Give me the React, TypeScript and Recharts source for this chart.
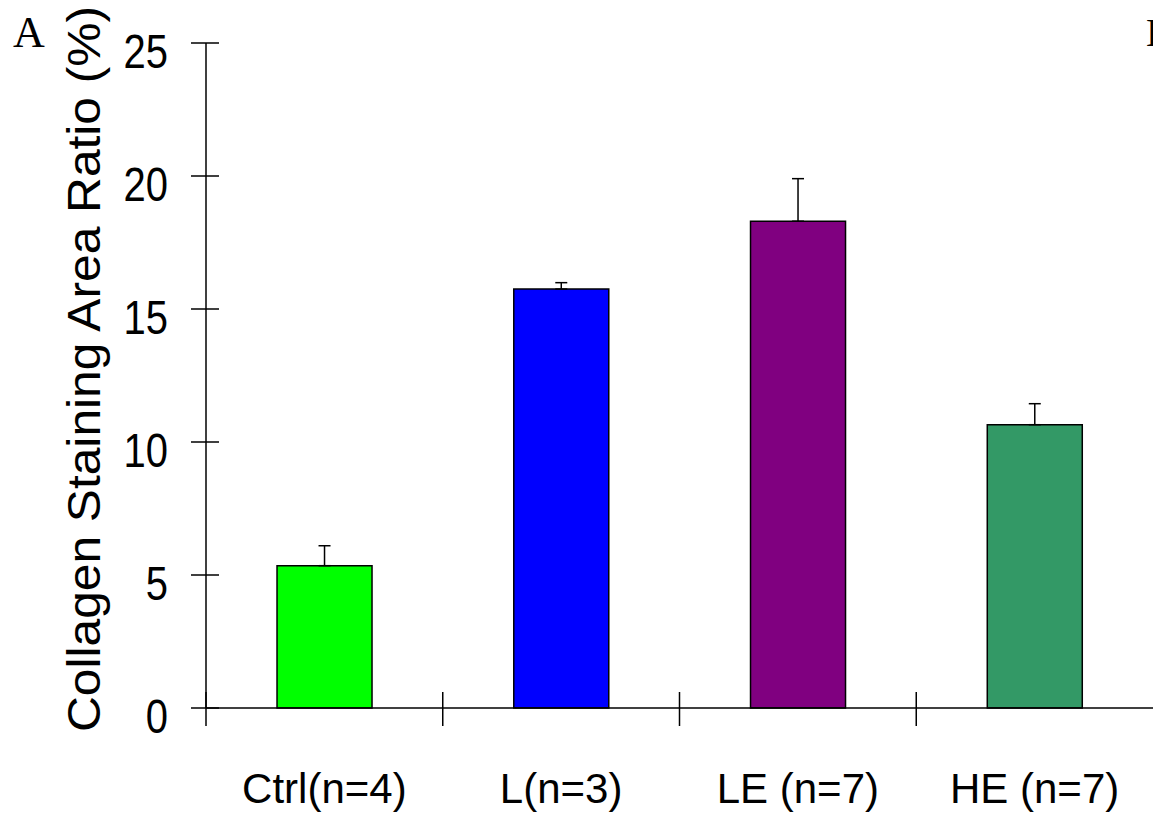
import React from 'react';
import { BarChart, Bar, XAxis, YAxis, Cell, ErrorBar } from 'recharts';

const categories = ['Ctrl(n=4)', 'L(n=3)', 'LE (n=7)', 'HE (n=7)'];
const means = [5.35, 15.75, 18.3, 10.65];
const errors = [0.75, 0.24, 1.6, 0.79];
const colors = ['#00FF00', '#0000FF', '#800080', '#339966'];
const yTicks = [0, 5, 10, 15, 20, 25];

const data = categories.map((c, i) => ({ name: c, value: means[i], err: [0, errors[i]] }));

const SANS = 'Liberation Sans, Arial, sans-serif';
const SERIF = 'Liberation Serif, Times New Roman, serif';

const YTick = (props: any) => {
  const { x, y, payload } = props;
  return (
    <g>
      <line x1={x - 15} x2={x + 13} y1={y} y2={y} stroke="#000" strokeWidth={1.5} />
      <text
        transform={`translate(${x - 38},${y + 7}) scale(1,1.22)`}
        textAnchor="end"
        dy="0.36em"
        fontSize={40}
        fontFamily={SANS}
        fill="#000"
      >
        {payload.value}
      </text>
    </g>
  );
};

const XTick = (props: any) => {
  const { x, y, payload } = props;
  const left = x - (payload.offset ?? 0);
  return (
    <g>
      <line x1={left} x2={left} y1={y - 16} y2={y + 18} stroke="#000" strokeWidth={1.5} />
      <text x={x} y={y + 95} textAnchor="middle" fontSize={42} fontFamily={SANS} fill="#000">
        {payload.value}
      </text>
    </g>
  );
};

const YLabel = () => (
  <text
    transform={`translate(100,369) rotate(-90) scale(1.08,1)`}
    textAnchor="middle"
    fontSize={46}
    fontFamily={SANS}
    fill="#000"
  >
    Collagen Staining Area Ratio (%)
  </text>
);

export default function App() {
  return (
    <div style={{ position: 'absolute', left: 0, top: 0, width: 1153, height: 820, background: '#fff' }}>
      <BarChart
        width={1153}
        height={820}
        data={data}
        margin={{ top: 43, right: 0, bottom: 0, left: 0 }}
        barCategoryGap="30%"
      >
        <XAxis
          dataKey="name"
          height={112}
          interval={0}
          tickSize={0}
          tickMargin={0}
          tickLine={false}
          axisLine={{ stroke: '#000', strokeWidth: 1.5 }}
          tick={<XTick />}
        />
        <YAxis
          width={206}
          domain={[0, 25]}
          ticks={yTicks}
          interval={0}
          tickSize={0}
          tickMargin={0}
          tickLine={false}
          axisLine={{ stroke: '#000', strokeWidth: 1.5 }}
          tick={<YTick />}
          label={{ content: () => <YLabel /> }}
        />
        <Bar dataKey="value" stroke="#000" strokeWidth={1.5} isAnimationActive={false}>
          {data.map((d, i) => (
            <Cell key={d.name} fill={colors[i]} />
          ))}
          <ErrorBar dataKey="err" width={6} stroke="#000" strokeWidth={1.5} direction="y" />
        </Bar>
      </BarChart>
      <svg width={1153} height={820} style={{ position: 'absolute', left: 0, top: 0, pointerEvents: 'none' }}>
        <text x={13} y={47} fontSize={44} fontFamily={SERIF} fill="#000">A</text>
        <text x={1146} y={46} fontSize={40} fontFamily={SERIF} fill="#000">B</text>
      </svg>
    </div>
  );
}
